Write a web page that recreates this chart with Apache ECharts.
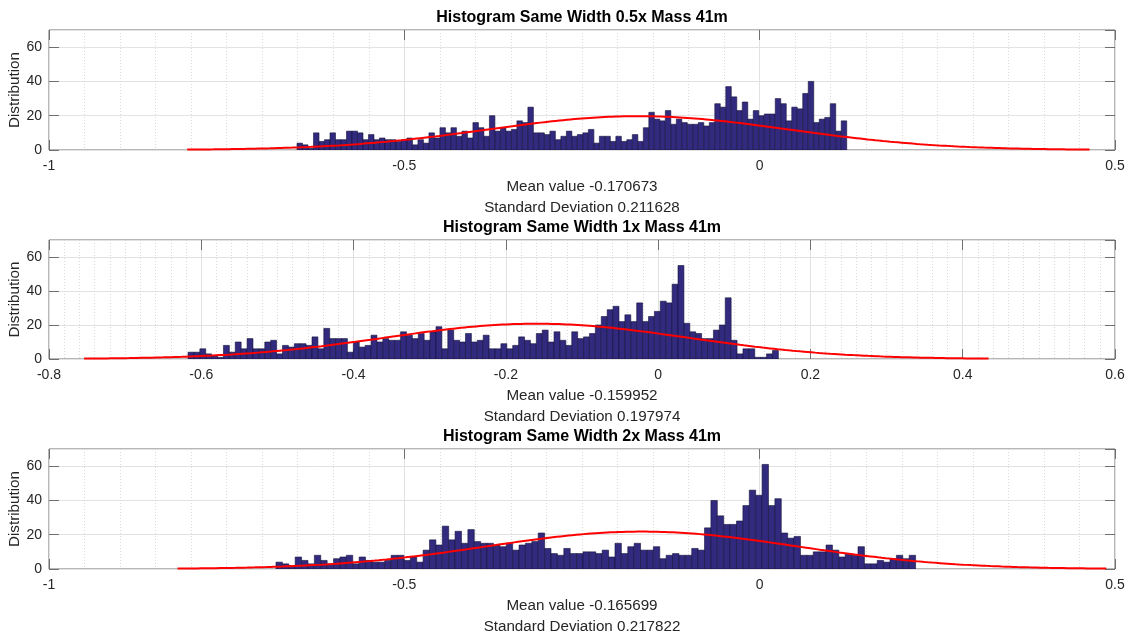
<!DOCTYPE html>
<html>
<head>
<meta charset="utf-8">
<title>Histogram Same Width – Mass 41m</title>
<script src="https://cdn.jsdelivr.net/npm/echarts@6/dist/echarts.min.js"></script>
<style>
  html, body { margin: 0; padding: 0; background: #ffffff; }
  #chart { width: 1132px; height: 634px; }
</style>
</head>
<body>
<div id="chart"></div>
<script>
// ---------- data ----------
const titles = [
  'Histogram Same Width 0.5x Mass 41m',
  'Histogram Same Width 1x Mass 41m',
  'Histogram Same Width 2x Mass 41m'
];

// fitted normal parameters (as printed under each panel)
const means = [-0.170673, -0.159952, -0.165699];
const stdDevs = [0.211628, 0.197974, 0.217822];

// bin layout of each histogram (x units)
const binStarts = [-0.651, -0.6174, -0.6806];
const binWidths = [0.007735, 0.007753, 0.009];

// bin counts
const counts05x = [
  4, 3, 1, 10, 5, 6, 10, 6, 6, 11,
  11, 10, 6, 9, 6, 7, 6, 6, 5, 6,
  7, 3, 6, 4, 10, 7, 13, 10, 13, 8,
  11, 7, 16, 13, 8, 20, 11, 13, 11, 12,
  17, 16, 25, 10, 10, 9, 11, 6, 8, 11,
  8, 9, 10, 12, 4, 8, 8, 5, 8, 5,
  6, 9, 5, 13, 22, 18, 17, 23, 15, 18,
  16, 15, 15, 16, 14, 16, 27, 25, 37, 31,
  23, 28, 18, 23, 20, 21, 21, 30, 27, 17,
  25, 24, 33, 40, 16, 18, 19, 27, 11, 17
];
const counts1x = [
  4, 4, 6, 3, 2, 1, 8, 4, 10, 6,
  12, 6, 6, 10, 11, 3, 8, 7, 9, 9,
  8, 13, 6, 18, 12, 12, 12, 4, 10, 7,
  8, 14, 10, 12, 11, 11, 16, 14, 12, 15,
  11, 16, 19, 6, 17, 11, 10, 15, 10, 11,
  14, 6, 6, 9, 6, 8, 13, 11, 9, 15,
  17, 10, 16, 11, 8, 16, 12, 13, 15, 20,
  25, 29, 31, 22, 26, 22, 33, 22, 25, 28,
  34, 33, 44, 55, 21, 16, 15, 12, 12, 17,
  20, 36, 11, 3, 6, 6, 1, 1, 3, 5
];
const counts2x = [
  4, 3, 2, 7, 5, 3, 8, 5, 3, 6,
  7, 8, 3, 7, 5, 4, 4, 5, 8, 8,
  5, 7, 4, 11, 17, 14, 25, 17, 22, 15,
  23, 16, 15, 15, 14, 13, 15, 11, 14, 15,
  16, 21, 12, 9, 8, 12, 9, 9, 10, 10,
  9, 11, 7, 15, 9, 13, 15, 11, 11, 13,
  6, 8, 9, 8, 8, 12, 11, 24, 40, 31,
  26, 26, 28, 37, 46, 43, 61, 37, 41, 21,
  18, 19, 8, 8, 10, 10, 14, 11, 7, 9,
  8, 13, 3, 3, 5, 4, 6, 8, 6, 8
];
const allCounts = [counts05x, counts1x, counts2x];

// axis ranges and tick steps
const xMins = [-1, -0.8, -1];
const xMaxs = [0.5, 0.6, 0.5];
const xSteps = [0.5, 0.2, 0.5];
const yMax = 70;
const yStep = 20;
const yMinorStep = 5;

// ---------- layout & style ----------
const FONT = "'Liberation Sans', Arial, Helvetica, sans-serif";
const TEXT = '#262626';
const BOX = '#6f6f6f';
const GRID_MAJOR = '#e2e2e2';
const GRID_MINOR = '#dadada';
const BAR_FILL = '#312a7e';
const BAR_EDGE = '#15123a';
const CURVE = '#ff0000';

const plotLeft = 49, plotRight = 17;
const panels = [
  { top: 30, height: 120 },
  { top: 240, height: 119 },
  { top: 449, height: 120 }
];

const grid = [], xAxis = [], yAxis = [], series = [], graphic = [];
const plotCenterX = plotLeft + (1132 - plotLeft - plotRight) / 2;
const tickStyle = { show: true, inside: true, length: 10, lineStyle: { color: BOX, width: 1 } };

panels.forEach((p, i) => {
  grid.push({
    left: plotLeft, right: plotRight, top: p.top, height: p.height,
    show: true, borderColor: BOX, borderWidth: 1, backgroundColor: '#ffffff'
  });

  // bottom axis: labels, major + minor grid
  xAxis.push({
    type: 'value', gridIndex: i, position: 'bottom',
    min: xMins[i], max: xMaxs[i], interval: xSteps[i],
    axisLine: { show: false, onZero: false },
    axisTick: tickStyle,
    axisLabel: {
      show: true, margin: 9, color: TEXT, fontSize: 14, fontFamily: FONT,
      showMinLabel: true, showMaxLabel: true
    },
    splitLine: { show: true, lineStyle: { color: GRID_MAJOR, width: 1 } },
    minorTick: { show: false, splitNumber: 10 },
    minorSplitLine: { show: true, lineStyle: { color: GRID_MINOR, width: 1, type: [1, 2] } }
  });
  // top axis: ticks only
  xAxis.push({
    type: 'value', gridIndex: i, position: 'top',
    min: xMins[i], max: xMaxs[i], interval: xSteps[i],
    axisLine: { show: false, onZero: false },
    axisTick: tickStyle,
    axisLabel: { show: false },
    splitLine: { show: false }
  });

  // left axis: labels, major grid
  yAxis.push({
    type: 'value', gridIndex: i, position: 'left',
    min: 0, max: yMax, interval: yStep,
    axisLine: { show: false, onZero: false },
    axisTick: tickStyle,
    axisLabel: {
      show: true, margin: 7, color: TEXT, fontSize: 14, fontFamily: FONT,
      showMaxLabel: false,
      formatter: v => (v % yStep === 0 ? String(v) : '')
    },
    splitLine: { show: true, lineStyle: { color: GRID_MAJOR, width: 1 } }
  });
  // right axis: ticks only
  yAxis.push({
    type: 'value', gridIndex: i, position: 'right',
    min: 0, max: yMax, interval: yStep,
    axisLine: { show: false, onZero: false },
    axisTick: tickStyle,
    axisLabel: { show: false },
    splitLine: { show: false }
  });
  // minor horizontal grid
  yAxis.push({
    type: 'value', gridIndex: i, position: 'left',
    min: 0, max: yMax, interval: yMinorStep,
    axisLine: { show: false, onZero: false }, axisTick: { show: false }, axisLabel: { show: false },
    splitLine: { show: true, lineStyle: { color: GRID_MINOR, width: 1, type: [1, 2] } },
    z: -1
  });

  const xIdx = i * 2, yIdx = i * 3;
  const start = binStarts[i], w = binWidths[i], counts = allCounts[i];

  // histogram bars
  series.push({
    type: 'custom',
    xAxisIndex: xIdx, yAxisIndex: yIdx,
    clip: true,
    encode: { x: 0, y: 1 },
    data: counts.map((c, k) => [start + k * w, c]),
    renderItem: (params, api) => {
      const x0 = api.value(0), y = api.value(1);
      const pTop = api.coord([x0, y]);
      const pBot = api.coord([x0 + w, 0]);
      return {
        type: 'rect',
        shape: { x: pTop[0], y: pTop[1], width: pBot[0] - pTop[0], height: pBot[1] - pTop[1] },
        style: { fill: BAR_FILL, stroke: BAR_EDGE, lineWidth: 0.6 }
      };
    },
    z: 2
  });

  // fitted normal curve, scaled to the histogram area (count * bin width)
  const total = counts.reduce((a, b) => a + b, 0);
  const mu = means[i], sd = stdDevs[i];
  const scale = total * w / (sd * Math.sqrt(2 * Math.PI));
  const curve = [];
  const nPts = 240;
  for (let k = 0; k <= nPts; k++) {
    const x = mu - 3 * sd + (6 * sd) * k / nPts;
    curve.push([x, scale * Math.exp(-0.5 * ((x - mu) / sd) ** 2)]);
  }
  series.push({
    type: 'line',
    xAxisIndex: xIdx, yAxisIndex: yIdx,
    data: curve,
    showSymbol: false, smooth: false, silent: true,
    lineStyle: { color: CURVE, width: 2 },
    z: 3
  });

  // panel title
  graphic.push({
    type: 'text', x: plotCenterX, y: p.top - 12,
    style: {
      text: titles[i], fill: '#000000',
      font: `bold 16px ${FONT}`,
      textAlign: 'center', textVerticalAlign: 'middle'
    }
  });
  // x labels (two lines)
  const bottom = p.top + p.height;
  graphic.push({
    type: 'text', x: plotCenterX, y: bottom + 37,
    style: {
      text: 'Mean value ' + mu.toString(), fill: TEXT,
      font: `15.2px ${FONT}`, textAlign: 'center', textVerticalAlign: 'middle'
    }
  });
  graphic.push({
    type: 'text', x: plotCenterX, y: bottom + 58,
    style: {
      text: 'Standard Deviation ' + sd.toString(), fill: TEXT,
      font: `15.2px ${FONT}`, textAlign: 'center', textVerticalAlign: 'middle'
    }
  });
  // y label
  graphic.push({
    type: 'text', x: 15, y: p.top + p.height / 2, rotation: Math.PI / 2,
    style: {
      text: 'Distribution', fill: TEXT,
      font: `15.2px ${FONT}`, textAlign: 'center', textVerticalAlign: 'middle'
    }
  });
});

const chart = echarts.init(document.getElementById('chart'), null, { renderer: 'canvas' });
chart.setOption({
  backgroundColor: '#ffffff',
  animation: false,
  grid, xAxis, yAxis, series, graphic
});
</script>
</body>
</html>
